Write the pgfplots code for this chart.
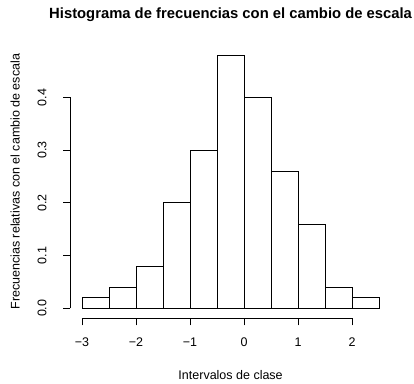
\documentclass[border=0pt]{standalone}
\usepackage{fontspec}
\setmainfont{Liberation Sans}
\usepackage{pgfplots}
\pgfplotsset{compat=1.18}
\begin{document}
\begin{tikzpicture}
\useasboundingbox (-70.1pt,-64.6pt) rectangle ++(414pt,383pt);
\begin{axis}[
  name=ax, at={(0,0)}, anchor=south west,
  scale only axis, width=321pt, height=273.4pt,
  xmin=-3.22, xmax=2.72, ymin=-0.0192, ymax=0.4992,
  clip=false,
  axis line style={draw=none},
  tick pos=left, tick align=outside,
  major tick length=7pt,
  tick style={black, line width=0.75pt},
  xtick={-3,-2,-1,0,1,2},
  xticklabels={−3,−2,−1,0,1,2},
  ytick={0,0.1,0.2,0.3,0.4},
  yticklabels={0.0,0.1,0.2,0.3,0.4},
  ticklabel style={font=\fontsize{12.5}{14}\selectfont},
  xticklabel style={anchor=center, yshift=-17pt},
  yticklabel style={anchor=center, xshift=-21pt, rotate=90},
  xlabel={Intervalos de clase},
  ylabel={Frecuencias relativas con el cambio de escala},
  every axis x label/.style={at={(axis description cs:0.5,0)}, yshift=-56.6pt, anchor=center, font=\fontsize{12.5}{14}\selectfont},
  every axis y label/.style={at={(axis description cs:0,0.5)}, xshift=-55pt, anchor=center, rotate=90, font=\fontsize{12.5}{14}\selectfont},
  title={Histograma de frecuencias con el cambio de escala},
  every axis title/.style={at={(axis description cs:0.5,1)}, yshift=30pt, anchor=center, font=\bfseries\fontsize{14.8}{17}\selectfont},
]
\addplot[ybar interval, fill=white, draw=black, line width=0.75pt] coordinates {
(-3,0.02) (-2.5,0.04) (-2,0.08) (-1.5,0.2) (-1,0.3) (-0.5,0.48)
(0,0.4) (0.5,0.26) (1,0.16) (1.5,0.04) (2,0.02) (2.5,0.02)};
\draw[black, line width=0.75pt] (axis cs:-3,-0.0192) -- (axis cs:2,-0.0192);
\draw[black, line width=0.75pt] (axis cs:-3.22,0) -- (axis cs:-3.22,0.4);
\end{axis}
\end{tikzpicture}
\end{document}
